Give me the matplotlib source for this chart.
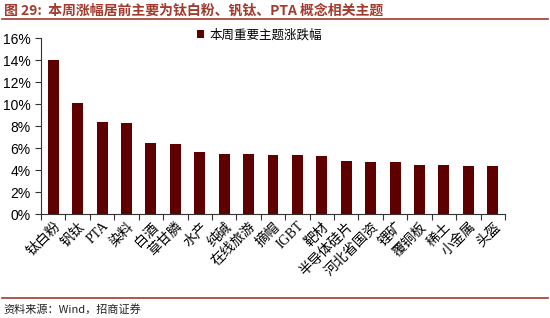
import matplotlib
matplotlib.use("Agg")
import matplotlib.pyplot as plt
from matplotlib.ticker import FuncFormatter, MultipleLocator

plt.rcParams['font.family'] = ['Noto Sans CJK SC', 'DejaVu Sans']

# 数据
themes = ["钛白粉", "钒钛", "PTA", "染料", "白酒", "草甘膦", "水产", "纯碱", "在线旅游", "摘帽",
          "IGBT", "靶材", "半导体硅片", "河北省国资", "锂矿", "覆铜板", "稀土", "小金属", "头盔"]
changes = [14.0, 10.1, 8.35, 8.3, 6.45, 6.35, 5.6, 5.5, 5.45, 5.4,
           5.4, 5.3, 4.8, 4.7, 4.7, 4.5, 4.45, 4.4, 4.4]
legend_label = "本周重要主题涨跌幅"
title = "图 29:  本周涨幅居前主要为钛白粉、钒钛、PTA 概念相关主题"
source = "资料来源：Wind，招商证券"

bar_color = "#5E0000"
red = "#A33A2E"

fig = plt.figure(figsize=(5.5, 3.18), dpi=100)
W, H = 550, 318
ax = fig.add_axes([41 / W, 1 - 214 / H, (505 - 41) / W, (214 - 38) / H])

x = list(range(len(themes)))
ax.bar(x, changes, width=0.45, color=bar_color, label=legend_label, zorder=2)

ax.set_xlim(-0.5, len(themes) - 0.5)
ax.set_ylim(0, 16)
ax.yaxis.set_major_locator(MultipleLocator(2))
ax.yaxis.set_major_formatter(FuncFormatter(lambda v, p: f"{v:.0f}%"))

for s in ["top", "right"]:
    ax.spines[s].set_visible(False)
for s in ["left", "bottom"]:
    ax.spines[s].set_color("#333333")
    ax.spines[s].set_linewidth(0.8)

# x 轴刻度在类别之间
ax.set_xticks([i - 0.5 for i in range(len(themes) + 1)], minor=False)
ax.set_xticklabels([])
ax.set_xticks(x, minor=True)
ax.set_xticklabels(themes, minor=True, rotation=45, ha="right", va="top",
                   rotation_mode="anchor", fontsize=10)
ax.tick_params(axis="x", which="minor", length=0, pad=4)
ax.tick_params(axis="x", which="major", length=4, direction="out", color="#333333")
ax.tick_params(axis="y", length=4, direction="out", color="#333333", labelsize=10)
for lbl in ax.get_yticklabels():
    lbl.set_family(["Liberation Sans", "DejaVu Sans"])
for lbl in ax.get_xticklabels(minor=True):
    if lbl.get_text() in ("PTA", "IGBT"):
        lbl.set_family(["Liberation Serif", "DejaVu Serif"])

leg = ax.legend(loc="upper center", bbox_to_anchor=(0.47, 1.12), frameon=False,
                fontsize=9, handlelength=0.6, handleheight=0.6, handletextpad=0.4)

# 标题与来源
fig.text(4 / W, 1 - 10 / H, title, fontsize=10, fontweight="bold", color=red,
         va="center", ha="left")
fig.add_artist(plt.Line2D([2 / W, 548 / W], [1 - 19 / H, 1 - 19 / H], color=red, lw=1.2))
fig.add_artist(plt.Line2D([2 / W, 548 / W], [1 - 298 / H, 1 - 298 / H], color=red, lw=1.2))
fig.text(3 / W, 1 - 309 / H, source, fontsize=8, color="#222222", va="center", ha="left")

fig.savefig("out.png", dpi=100)
